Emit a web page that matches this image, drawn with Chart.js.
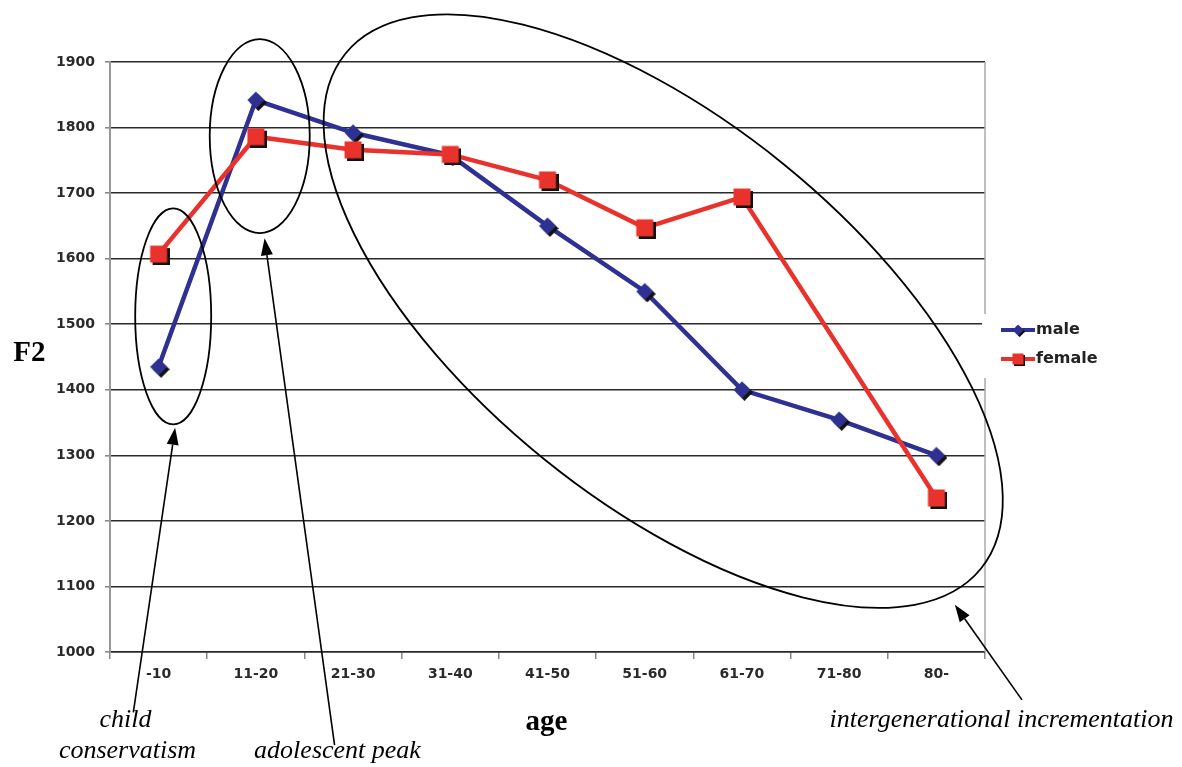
<!DOCTYPE html>
<html lang="en">
<head>
<meta charset="UTF-8">
<title>F2 by age and sex</title>
<script src="https://cdn.jsdelivr.net/npm/chart.js"></script>
<style>
  html, body { margin: 0; padding: 0; background: #fff; }
  #wrap { width: 1182px; height: 767px; position: relative; }
</style>
</head>
<body>
<div id="wrap"><canvas id="f2Chart"></canvas></div>
<script>
// data
const ageGroups = ['-10', '11-20', '21-30', '31-40', '41-50', '51-60', '61-70', '71-80', '80-'];
const maleF2 = [1435, 1842, 1792, 1758, 1650, 1550, 1400, 1354, 1300];
const femaleF2 = [1607, 1786, 1766, 1759, 1720, 1647, 1694, null, 1235];
const yTicks = [1000, 1100, 1200, 1300, 1400, 1500, 1600, 1700, 1800, 1900];

// hand-drawn annotations, anchored in (category index, F2 value)
const circles = [
  { i: 0.15, v: 1512, rx: 38, ry: 108, rot: 0 },
  { i: 1.04, v: 1787, rx: 50, ry: 97, rot: 0 },
  { i: 5.19, v: 1520, rx: 409, ry: 190, rot: 39 }
];
const arrows = [
  { from: [-0.26, 908], to: [0.17, 1342] },
  { from: [1.81, 858], to: [1.09, 1631] },
  { from: [8.88, 927], to: [8.19, 1072] }
];
const notes = [
  { text: 'child', i: -0.34, v: 896, font: 'italic 26px "Liberation Serif"' },
  { text: 'conservatism', i: -0.32, v: 848, font: 'italic 26px "Liberation Serif"' },
  { text: 'adolescent peak', i: 1.84, v: 848, font: 'italic 26px "Liberation Serif"' },
  { text: 'intergenerational incrementation', i: 8.67, v: 896, font: 'italic 26px "Liberation Serif"' },
  { text: 'age', i: 3.99, v: 893, font: 'bold 29px "Liberation Serif"' },
  { text: 'F2', i: -1.33, v: 1455, font: 'bold 29px "Liberation Serif"' }
];

// marker with a small drop shadow baked in
function marker(color, shape, half) {
  const off = 2.5, c = half + off;
  const cv = document.createElement('canvas');
  cv.width = cv.height = Math.ceil(c * 2);
  const g = cv.getContext('2d');
  function shapeAt(x, y) {
    g.beginPath();
    if (shape === 'diamond') {
      g.moveTo(x, y - half); g.lineTo(x + half, y); g.lineTo(x, y + half); g.lineTo(x - half, y);
    } else {
      g.rect(x - half, y - half, half * 2, half * 2);
    }
    g.closePath();
    g.fill();
  }
  g.fillStyle = '#111';
  shapeAt(c + off, c + off);
  g.fillStyle = color;
  shapeAt(c, c);
  return cv;
}

const blue = '#2f3192';
const red = '#e8322b';

const decorations = {
  id: 'decorations',
  beforeDatasetsDraw(chart) {
    const { ctx, chartArea: a } = chart;
    ctx.save();
    ctx.strokeStyle = '#aaa';
    ctx.lineWidth = 1.5;
    ctx.beginPath();
    ctx.moveTo(a.right, a.top);
    ctx.lineTo(a.right, a.bottom);
    ctx.stroke();
    ctx.restore();
  },
  afterDraw(chart) {
    const { ctx, chartArea: a } = chart;
    const xs = chart.scales.x, ys = chart.scales.y;
    const px = i => xs.getPixelForValue(i);
    const py = v => ys.getPixelForValue(v);
    ctx.save();

    // legend
    ctx.fillStyle = '#fff';
    ctx.fillRect(a.right - 3, a.top + 252, 130, 64);
    chart.data.datasets.forEach((ds, k) => {
      const y = a.top + 268 + k * 29;
      const x0 = a.right + 16;
      ctx.strokeStyle = ds.borderColor;
      ctx.lineWidth = 4;
      ctx.beginPath();
      ctx.moveTo(x0, y);
      ctx.lineTo(x0 + 34, y);
      ctx.stroke();
      const img = ds.pointStyle;
      const s = img.width * 0.65;
      ctx.drawImage(img, x0 + 17 - s / 2, y - s / 2, s, s);
      ctx.fillStyle = '#222';
      ctx.font = 'bold 16px "DejaVu Sans"';
      ctx.textBaseline = 'middle';
      ctx.textAlign = 'left';
      ctx.fillText(ds.label, x0 + 35, y);
    });

    // circled regions
    ctx.strokeStyle = '#000';
    ctx.lineWidth = 1.8;
    circles.forEach(c => {
      ctx.beginPath();
      ctx.ellipse(px(c.i), py(c.v), c.rx, c.ry, c.rot * Math.PI / 180, 0, Math.PI * 2);
      ctx.stroke();
    });

    // arrows
    ctx.lineWidth = 1.6;
    ctx.fillStyle = '#000';
    arrows.forEach(ar => {
      const x1 = px(ar.from[0]), y1 = py(ar.from[1]);
      const x2 = px(ar.to[0]), y2 = py(ar.to[1]);
      const ang = Math.atan2(y2 - y1, x2 - x1);
      const len = 17, w = 6;
      const bx = x2 - len * Math.cos(ang), by = y2 - len * Math.sin(ang);
      ctx.beginPath();
      ctx.moveTo(x1, y1);
      ctx.lineTo(bx, by);
      ctx.stroke();
      ctx.beginPath();
      ctx.moveTo(x2, y2);
      ctx.lineTo(bx + w * Math.sin(ang), by - w * Math.cos(ang));
      ctx.lineTo(bx - w * Math.sin(ang), by + w * Math.cos(ang));
      ctx.closePath();
      ctx.fill();
    });

    // text labels
    ctx.fillStyle = '#000';
    ctx.textAlign = 'center';
    ctx.textBaseline = 'middle';
    notes.forEach(n => {
      ctx.font = n.font;
      ctx.fillText(n.text, px(n.i), py(n.v));
    });
    ctx.restore();
  }
};

const ctx = document.getElementById('f2Chart').getContext('2d');
const chart = new Chart(ctx, {
  type: 'line',
  data: {
    labels: ageGroups,
    datasets: [
      {
        label: 'male',
        data: maleF2,
        borderColor: blue,
        backgroundColor: blue,
        borderWidth: 4.5,
        pointStyle: marker(blue, 'diamond', 8.5),
        pointRadius: 8,
        order: 1
      },
      {
        label: 'female',
        data: femaleF2,
        borderColor: red,
        backgroundColor: red,
        borderWidth: 4.5,
        pointStyle: marker(red, 'square', 8.5),
        pointRadius: 8,
        spanGaps: true,
        order: 0
      }
    ]
  },
  options: {
    responsive: true,
    maintainAspectRatio: false,
    animation: false,
    layout: { padding: { left: 0, right: 197, top: 62, bottom: 0 } },
    plugins: {
      legend: { display: false },
      tooltip: { enabled: false }
    },
    scales: {
      x: {
        offset: true,
        afterFit: s => { s.height = 115; },
        grid: { offset: true, drawOnChartArea: false, drawTicks: true, tickLength: 7, color: '#888', lineWidth: 1.5 },
        border: { display: true, color: '#2a2a2a', width: 1.6 },
        ticks: { color: '#2a2a2a', padding: 7, font: { family: 'DejaVu Sans', size: 14, weight: 'bold' } }
      },
      y: {
        min: yTicks[0],
        max: yTicks[yTicks.length - 1],
        afterFit: s => { s.width = 110; },
        ticks: {
          stepSize: yTicks[1] - yTicks[0],
          callback: v => String(v),
          color: '#2a2a2a',
          padding: 10,
          font: { family: 'DejaVu Sans', size: 14, weight: 'bold' }
        },
        grid: { color: '#2a2a2a', lineWidth: 1.6, tickColor: '#888', tickLength: 5 },
        border: { display: true, color: '#999', width: 2 }
      }
    }
  },
  plugins: [decorations]
});
</script>
</body>
</html>
